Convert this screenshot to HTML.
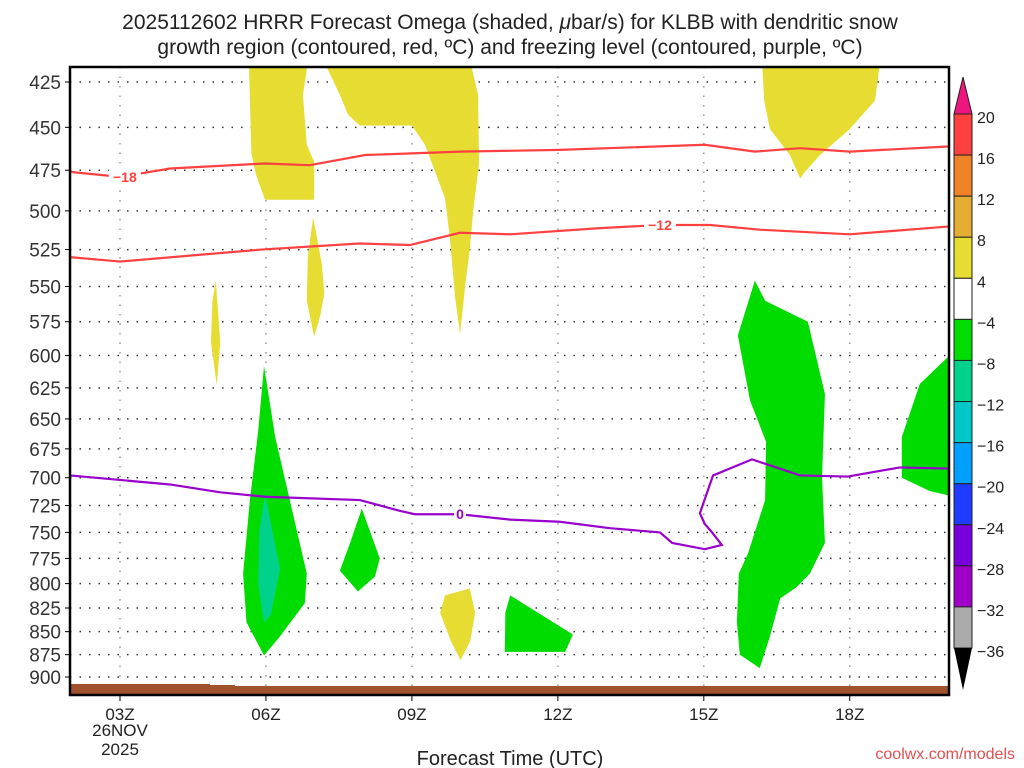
<!DOCTYPE html>
<html><head><meta charset="utf-8"><style>
body{margin:0;background:#fff;}
svg{display:block;font-family:"Liberation Sans",sans-serif;}
</style></head><body>
<svg id="chart" width="1024" height="768" xmlns="http://www.w3.org/2000/svg">
<text x="510" y="29" text-anchor="middle" font-size="21" fill="#222">2025112602 HRRR Forecast Omega (shaded, <tspan font-style="italic">μ</tspan>bar/s) for KLBB with dendritic snow</text>
<text x="510" y="54" text-anchor="middle" font-size="21" fill="#222">growth region (contoured, red, ºC) and freezing level (contoured, purple, ºC)</text>
<text x="510" y="765" text-anchor="middle" font-size="20" fill="#222">Forecast Time (UTC)</text>
<text x="1015" y="759" text-anchor="end" font-size="16" fill="#e05050">coolwx.com/models</text>
<defs><clipPath id="pc"><rect x="70" y="67" width="879" height="628"/></clipPath></defs>
<g id="plot" clip-path="url(#pc)"></g>
<g id="axes"></g>
<g id="cbar"></g>
</svg>
<script>
const pressureTicks=[425,450,475,500,525,550,575,600,625,650,675,700,725,750,775,800,825,850,875,900];
const hourTicks=[3,6,9,12,15,18];
const hourLabels=["03Z","06Z","09Z","12Z","15Z","18Z"];
// shaded omega regions: [hour, hPa]
const yellowTop=[[5.65,415],[6.86,415],[6.76,432],[6.84,460],[6.99,470],[6.99,493],[5.98,493],[5.8,478],[5.7,465]];
const yellowBig=[[7.21,415],[10.21,415],[10.36,432],[10.38,471],[10.26,500],[10.19,525],[10.09,551],[9.99,584],[9.89,558],[9.78,517],[9.68,492],[9.27,460],[9.0,449],[7.93,449],[7.69,443],[7.52,432]];
const yellowSmall1=[[6.97,504],[7.15,535],[7.2,555],[7.12,570],[6.99,586],[6.84,560],[6.86,530]];
const yellowSmall2=[[4.97,546],[5.06,590],[4.99,623],[4.87,590],[4.9,560]];
const yellowTopRight=[[16.2,415],[18.62,415],[18.52,435],[18,451],[17.39,466],[17.08,476],[16.98,480],[16.77,466],[16.36,451],[16.24,435]];
const yellowLow=[[9.68,812],[10.19,805],[10.3,830],[10.2,860],[10.0,881],[9.8,860],[9.58,830]];
const greenA=[[5.96,608],[6.19,665],[6.49,720],[6.84,790],[6.8,820],[6.29,855],[5.96,876],[5.6,840],[5.53,790],[5.67,720],[5.84,660]];
const tealA=[[5.98,715],[6.29,785],[6.1,832],[5.96,840],[5.84,800],[5.86,750]];
const greenB=[[7.97,728],[8.34,775],[8.24,793],[7.89,808],[7.52,787],[7.73,760]];
const greenC=[[11.02,812],[12.31,853],[12.15,872],[10.91,872],[10.92,830]];
const greenD=[[16.05,546],[16.26,560],[17.14,575],[17.49,630],[17.43,700],[17.49,760],[17.18,790],[16.9,804],[16.57,815],[16.36,855],[16.15,890],[15.74,875],[15.68,840],[15.72,790],[15.91,770],[16.26,720],[16.28,669],[15.95,635],[15.7,585]];
const greenE=[[20.05,600],[19.44,622],[19.07,665],[19.07,700],[19.65,712],[20.05,716]];
// contour lines: hours and pressure
const m18Hours=[1.97,3,4.03,5.98,6.9,8.04,9.99,12.04,15.02,16.05,16.98,18,20.02];
const m18Press=[476,479,474,471,472,466,464,463,460,464,462,464,461];
const m12Hours=[1.97,3,5.9,7.93,8.96,9.99,11.02,12.87,14.1,15.13,16.15,18,20.02];
const m12Press=[530,533,525,521,522,514,515,511,509,509,512,515,510];
const zeroHours=[1.97,3,4.03,5.06,5.98,7.93,8.76,9.06,9.99,11.02,12.04,13.07,14.1,14.35,15.02,15.37,15.17,15.02,14.92,15.19,15.99,16.98,17.96,19.03,20.02];
const zeroPress=[698,702,706,713,717,720,730,733,733,738,740,746,750,760,766,762,750,742,732,698,684,698,699,691,692];
const cbarLabels=["20","16","12","8","4","−4","−8","−12","−16","−20","−24","−28","−32","−36"];
const cbarColors=["#ff4040","#f08228","#e5ad32","#e6dc32","#ffffff","#00dc00","#00d28c","#00c8c8","#00a0ff","#1e3cff","#7800dc","#a000c8","#aaaaaa"];

const X0=70,X1=949,Y0=67,Y1=695;
const xs=h=>120+(h-3)*48.65;
const ys=p=>82+793*Math.log(p/425);
const NS="http://www.w3.org/2000/svg";
function mk(t,parent,attrs){const e=document.createElementNS(NS,t);for(const k in attrs)e.setAttribute(k,attrs[k]);parent.appendChild(e);return e;}
const plot=document.getElementById('plot'),axes=document.getElementById('axes'),cb=document.getElementById('cbar');
pressureTicks.forEach(p=>{const l=mk('line',plot,{x1:X0,x2:X1,y1:ys(p),y2:ys(p),stroke:'#333','stroke-width':1.5,'stroke-dasharray':'1.5 8'});

});
hourTicks.forEach(h=>{const l=mk('line',plot,{x1:xs(h),x2:xs(h),y1:Y0,y2:Y1,stroke:'#999','stroke-width':1.5,'stroke-dasharray':'1.5 8'});

});
function poly(pts,fill,name){const e=mk('polygon',plot,{points:pts.map(q=>xs(q[0])+','+ys(q[1])).join(' '),fill:fill});

}
poly(yellowTop,'#e6dc32','omega-yellow-region');poly(yellowBig,'#e6dc32','omega-yellow-region');
poly(yellowSmall1,'#e6dc32','omega-yellow-region');poly(yellowSmall2,'#e6dc32','omega-yellow-region');
poly(yellowTopRight,'#e6dc32','omega-yellow-region');poly(yellowLow,'#e6dc32','omega-yellow-region');
poly(greenA,'#00dc00','omega-green-region');poly(tealA,'#00d28c','omega-teal-region');
poly(greenB,'#00dc00','omega-green-region');poly(greenC,'#00dc00','omega-green-region');
poly(greenD,'#00dc00','omega-green-region');poly(greenE,'#00dc00','omega-green-region');
function line(hs,ps,col,name){const e=mk('polyline',plot,{points:hs.map((h,i)=>xs(h)+','+ys(ps[i])).join(' '),fill:'none',stroke:col,'stroke-width':2.2});

}
line(m18Hours,m18Press,'#ff4040','contour-minus18');
line(m12Hours,m12Press,'#ff4040','contour-minus12');
line(zeroHours,zeroPress,'#9900cc','freezing-level-contour');
function clab(h,p,t,col,name){const x=xs(h),y=ys(p);mk('rect',plot,{x:x-16,y:y-8,width:32,height:16,fill:'#fff'});
const e=mk('text',plot,{x:x,y:y+5,'text-anchor':'middle','font-size':14,'font-weight':'bold',fill:col});e.textContent=t;

}
clab(3.1,479,'−18','#ff4040','label-minus18');clab(14.1,509,'−12','#ff4040','label-minus12');
mk('rect',plot,{x:X0,y:684,width:140,height:12,fill:'#a0522d'});
mk('rect',plot,{x:205,y:685,width:30,height:12,fill:'#a0522d'});
mk('rect',plot,{x:230,y:686,width:720,height:12,fill:'#a0522d'});
(function(){const x=xs(9.99),y=ys(733);mk('rect',plot,{x:x-6,y:y-8,width:12,height:16,fill:'#fff'});
const e=mk('text',plot,{x:x,y:y+5,'text-anchor':'middle','font-size':14,'font-weight':'bold',fill:'#9900cc'});e.textContent='0';

})();
const fr=mk('rect',axes,{x:X0,y:Y0,width:X1-X0,height:Y1-Y0,fill:'none',stroke:'#000','stroke-width':2.5});


pressureTicks.forEach(p=>{mk('line',axes,{x1:X0-5,x2:X0,y1:ys(p),y2:ys(p),stroke:'#000','stroke-width':1});
const t=mk('text',axes,{x:X0-9,y:ys(p)+7,'text-anchor':'end','font-size':19,fill:'#333'});t.textContent=p;

});
hourTicks.forEach((h,i)=>{mk('line',axes,{x1:xs(h),x2:xs(h),y1:Y1,y2:Y1+6,stroke:'#000','stroke-width':1});
const t=mk('text',axes,{x:xs(h),y:Y1+25,'text-anchor':'middle','font-size':17,fill:'#222'});t.textContent=hourLabels[i];

});
[['26NOV',736],['2025',755]].forEach(a=>{const t=mk('text',axes,{x:xs(3),y:a[1],'text-anchor':'middle','font-size':17,fill:'#222'});t.textContent=a[0];

});
const CX=954,CW=18,CT=114,CB=648,bh=(CB-CT)/cbarColors.length;
cbarColors.forEach((c,i)=>{const r=mk('rect',cb,{x:CX,y:CT+i*bh,width:CW,height:bh,fill:c,stroke:'#222','stroke-width':1});

});
mk('polygon',cb,{points:`${CX},${CT} ${CX+CW},${CT} ${CX+CW/2},${CT-37}`,fill:'#f0147f',stroke:'#222'});
mk('polygon',cb,{points:`${CX},${CB} ${CX+CW},${CB} ${CX+CW/2},${CB+42}`,fill:'#000'});
cbarLabels.forEach((l,i)=>{const t=mk('text',cb,{x:977,y:CT+i*bh+9,'font-size':16,fill:'#222'});t.textContent=l;

});
</script>
</body></html>
